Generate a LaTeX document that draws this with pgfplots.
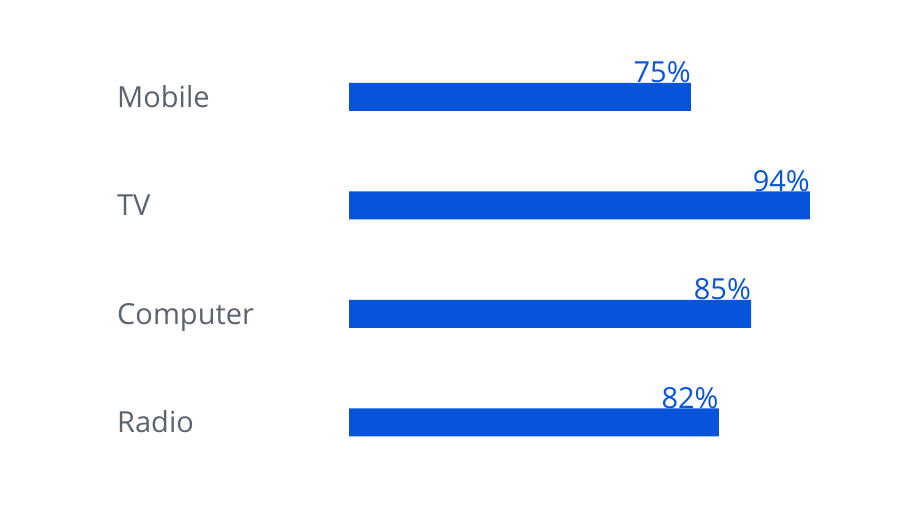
\documentclass[border=0pt]{standalone}
\usepackage{pgfplots}
\pgfplotsset{compat=1.18}
\usepackage{fontspec}
\setmainfont{Open Sans}
\definecolor{barblue}{HTML}{0753D9}
\definecolor{labgray}{HTML}{5B6370}
\begin{document}
\begin{tikzpicture}[x=1pt,y=1pt]
\path[use as bounding box] (0,0) rectangle (900,526);
\begin{axis}[
  at={(349pt,49.25pt)}, anchor=south west,
  scale only axis, width=461pt, height=434pt,
  xmin=0, xmax=94, ymin=-0.5, ymax=3.5,
  xbar, bar width=28pt, clip=false,
  axis line style={draw=none}, major tick length=0pt,
  xtick=\empty, ytick={0,1,2,3},
  yticklabels={Radio,Computer,TV,Mobile},
  yticklabel style={anchor=base west, inner sep=0pt, xshift=-232pt, yshift=-10.3pt,
    font=\fontsize{29}{34}\selectfont, text=labgray},
  point meta=explicit symbolic,
  nodes near coords={\pgfplotspointmeta\%},
  nodes near coords style={anchor=base east, inner sep=0pt, yshift=14pt,
    font=\fontsize{29}{34}\selectfont, text=barblue},
]
\addplot[fill=barblue, draw=none] table[meta=lab] {
x y lab
75.4 0 82
82.0 1 85
94.0 2 94
69.7 3 75
};
\end{axis}
\end{tikzpicture}
\end{document}
